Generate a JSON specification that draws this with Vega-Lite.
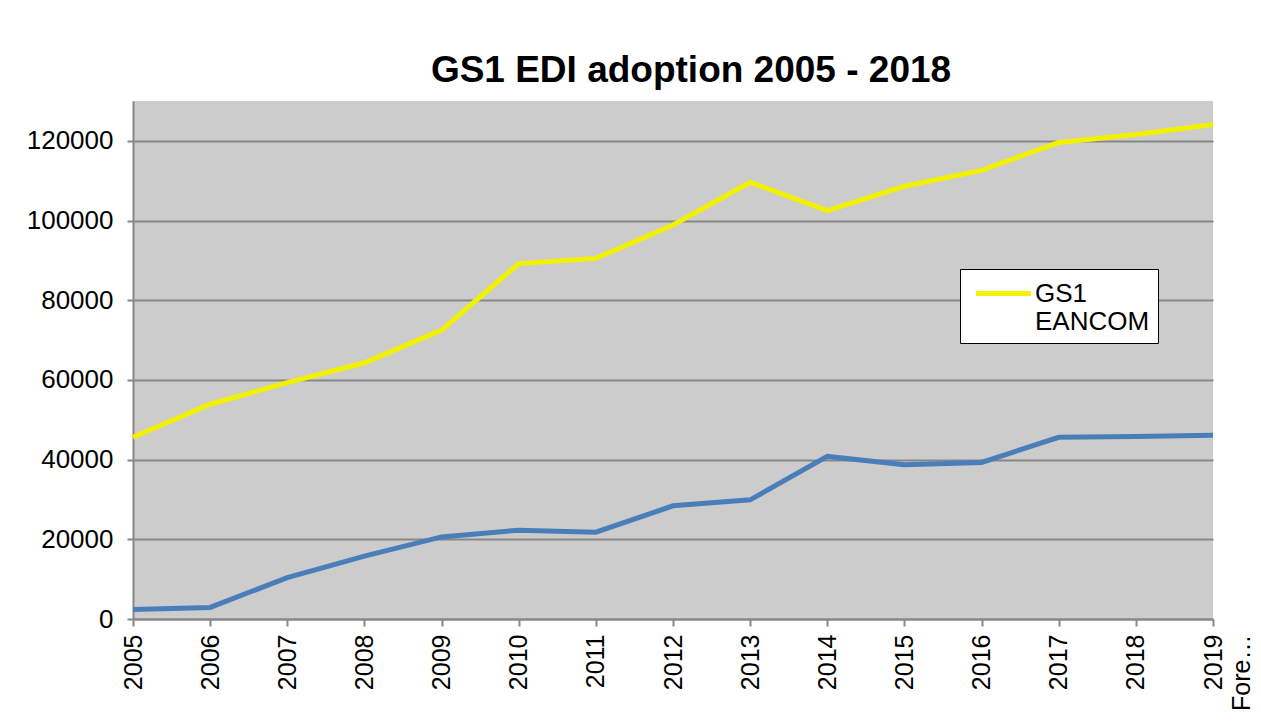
{
  "$schema": "https://vega.github.io/schema/vega-lite/v6.json",
  "width": 1080,
  "height": 518,
  "padding": {"left": 26, "top": 52, "right": 5, "bottom": 5},
  "background": "white",
  "title": {
    "text": "GS1 EDI adoption 2005 - 2018",
    "font": "Liberation Sans",
    "fontSize": 37,
    "fontWeight": "bold",
    "color": "black",
    "dx": 18,
    "offset": 11
  },
  "data": {
    "values": [
      {"year": "2005", "series": "GS1 EANCOM", "value": 45600},
      {"year": "2006", "series": "GS1 EANCOM", "value": 53900},
      {"year": "2007", "series": "GS1 EANCOM", "value": 59300},
      {"year": "2008", "series": "GS1 EANCOM", "value": 64300},
      {"year": "2009", "series": "GS1 EANCOM", "value": 72500},
      {"year": "2010", "series": "GS1 EANCOM", "value": 89200},
      {"year": "2011", "series": "GS1 EANCOM", "value": 90500},
      {"year": "2012", "series": "GS1 EANCOM", "value": 98900},
      {"year": "2013", "series": "GS1 EANCOM", "value": 109600},
      {"year": "2014", "series": "GS1 EANCOM", "value": 102500},
      {"year": "2015", "series": "GS1 EANCOM", "value": 108600},
      {"year": "2016", "series": "GS1 EANCOM", "value": 112600},
      {"year": "2017", "series": "GS1 EANCOM", "value": 119600},
      {"year": "2018", "series": "GS1 EANCOM", "value": 121600},
      {"year": "2019 Forecast", "series": "GS1 EANCOM", "value": 124100},
      {"year": "2005", "series": "GS1 XML", "value": 2400},
      {"year": "2006", "series": "GS1 XML", "value": 2900},
      {"year": "2007", "series": "GS1 XML", "value": 10400},
      {"year": "2008", "series": "GS1 XML", "value": 15800},
      {"year": "2009", "series": "GS1 XML", "value": 20600},
      {"year": "2010", "series": "GS1 XML", "value": 22300},
      {"year": "2011", "series": "GS1 XML", "value": 21800},
      {"year": "2012", "series": "GS1 XML", "value": 28400},
      {"year": "2013", "series": "GS1 XML", "value": 29900},
      {"year": "2014", "series": "GS1 XML", "value": 40800},
      {"year": "2015", "series": "GS1 XML", "value": 38700},
      {"year": "2016", "series": "GS1 XML", "value": 39300},
      {"year": "2017", "series": "GS1 XML", "value": 45600},
      {"year": "2018", "series": "GS1 XML", "value": 45800},
      {"year": "2019 Forecast", "series": "GS1 XML", "value": 46100}
    ]
  },
  "mark": {"type": "line", "strokeWidth": 5},
  "encoding": {
    "x": {
      "field": "year",
      "type": "ordinal",
      "sort": null,
      "scale": {"type": "point", "padding": 0},
      "axis": {
        "title": null,
        "labelAngle": -90,
        "labelExpr": "split(datum.label, ' ')",
        "labelLimit": 80,
        "labelFont": "Liberation Sans",
        "labelFontSize": 25,
        "labelColor": "black",
        "labelPadding": 8,
        "labelLineHeight": 28,
        "tickSize": 7,
        "tickColor": "#878787",
        "tickWidth": 2,
        "domainColor": "#878787",
        "domainWidth": 2,
        "grid": false
      }
    },
    "y": {
      "field": "value",
      "type": "quantitative",
      "scale": {"domain": [0, 130000], "nice": false},
      "axis": {
        "title": null,
        "values": [0, 20000, 40000, 60000, 80000, 100000, 120000],
        "format": "d",
        "labelFont": "Liberation Sans",
        "labelFontSize": 26,
        "labelColor": "black",
        "labelPadding": 14,
        "tickSize": 6,
        "tickColor": "#878787",
        "tickWidth": 2,
        "domainColor": "#878787",
        "domainWidth": 2,
        "grid": true,
        "gridColor": "#878787",
        "gridWidth": 2,
        "gridOpacity": 1
      }
    },
    "color": {
      "field": "series",
      "type": "nominal",
      "scale": {"domain": ["GS1 EANCOM", "GS1 XML"], "range": ["#f2f200", "#4a7ebb"]},
      "legend": {
        "values": ["GS1 EANCOM"],
        "title": null,
        "orient": "none",
        "legendX": 827,
        "legendY": 168,
        "symbolType": "M-2,0H2",
        "symbolSize": 756,
        "symbolStrokeWidth": 5,
        "symbolOffset": 19,
        "labelExpr": "split(datum.label, ' ')",
        "labelFont": "Liberation Sans",
        "labelFontSize": 26,
        "labelColor": "black",
        "labelLineHeight": 28,
        "labelOffset": 15,
        "labelLimit": 300,
        "padding": 8,
        "strokeColor": "black",
        "fillColor": "white",
        "cornerRadius": 0
      }
    }
  },
  "config": {
    "view": {"fill": "#cccccc", "stroke": null}
  }
}
